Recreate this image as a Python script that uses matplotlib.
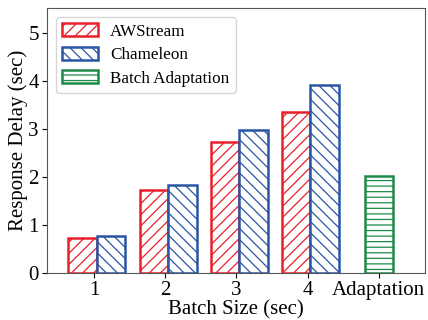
import matplotlib
matplotlib.use("Agg")
import matplotlib.pyplot as plt
import numpy as np

categories = ["1", "2", "3", "4", "Adaptation"]
awstream = [0.72, 1.73, 2.73, 3.35]
chameleon = [0.78, 1.83, 2.98, 3.92]
batch_adapt = [2.03]

plt.rcParams['font.family'] = ['Liberation Serif', 'DejaVu Serif']
plt.rcParams['hatch.linewidth'] = 0.9

red = '#e8202a'
blue = '#2a55a5'
green = '#1c8a48'

fig = plt.figure(figsize=(4.28, 3.2), dpi=100)
ax = fig.add_axes([0.110, 0.147, 0.883, 0.828])

x = np.arange(1, 5)
w = 0.4
ax.bar(x - 0.16, awstream, w, facecolor='white', edgecolor=red, hatch='///', linewidth=1.8, label='AWStream')
ax.bar(x + 0.24, chameleon, w, facecolor='white', edgecolor=blue, hatch='\\\\\\', linewidth=1.8, label='Chameleon')
ax.bar([5], batch_adapt, w, facecolor='white', edgecolor=green, hatch='---', linewidth=1.8, label='Batch Adaptation')

ax.set_xlim(0.34, 5.65)
ax.set_ylim(0, 5.52)
ax.set_xticks(range(1, 6))
ax.set_xticklabels(categories)
ax.set_yticks(range(0, 6))
ax.tick_params(labelsize=15, length=3.5, pad=2.5)
ax.set_xlabel('Batch Size (sec)', fontsize=15, labelpad=0)
ax.set_ylabel('Response Delay (sec)', fontsize=15, labelpad=0.5)
for s in ax.spines.values():
    s.set_color('#555555')
leg = ax.legend(loc='upper left', fontsize=12.3, handlelength=2.1, handleheight=0.78,
                borderaxespad=0.55, labelspacing=0.42, handletextpad=0.7, borderpad=0.35)
leg.get_frame().set_edgecolor('#cccccc')

fig.savefig('out.png', dpi=100)
